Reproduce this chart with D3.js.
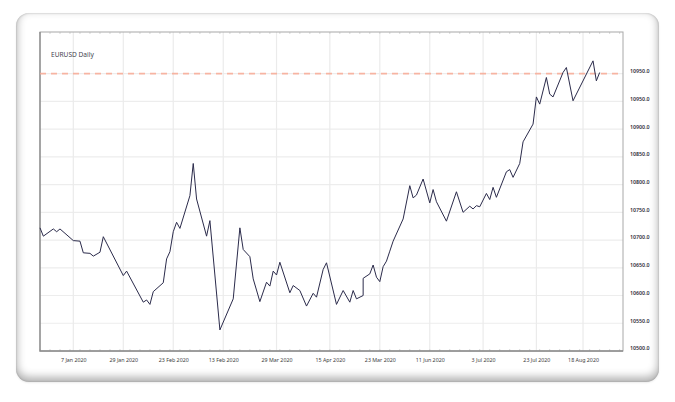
<!DOCTYPE html>
<html>
<head>
<meta charset="utf-8">
<script src="https://cdn.jsdelivr.net/npm/d3@7"></script>
<style>
  html, body { margin: 0; padding: 0; background: #fff; }
  body { width: 675px; height: 402px; position: relative; overflow: hidden; font-family: "Noto Sans", sans-serif; }
  #card {
    position: absolute; left: 16px; top: 13px; width: 643px; height: 369px;
    border-radius: 13px; background: #fff;
    box-shadow: inset 0 -4px 8px 1px rgba(0,0,0,0.30), inset 0 0 2px rgba(0,0,0,0.25), 0 1px 2px rgba(0,0,0,0.08);
  }
  svg { position: absolute; left: 0; top: 0; }
</style>
</head>
<body>
<div id="card"></div>
<script>
// session index (x) and close (y)
var days = [0, 1, 4, 5, 6, 10, 12, 13, 15, 16, 18, 19, 25, 26, 31, 32, 33, 34, 37, 38,
  39, 40, 41, 42, 45, 46, 47, 50, 51, 54, 58, 60, 61, 63, 64, 66, 68, 69, 70, 71,
  72, 75, 76, 78, 80, 82, 83, 85, 86, 89, 91, 93, 94, 95, 97, 97, 99, 100, 101, 102,
  103, 104, 105, 106, 109, 111, 112, 113, 115, 117, 118, 119, 122, 125, 127, 129, 130, 131, 132, 134,
  135, 136, 137, 140, 141, 142, 144, 145, 148, 149, 150, 152, 153, 154, 157, 158, 160, 166, 167, 168];
var closes = [10722, 10707, 10720, 10715, 10720, 10699, 10698, 10677, 10676, 10671, 10678, 10706, 10636, 10644, 10588, 10592, 10584, 10607, 10623, 10666,
  10679, 10715, 10732, 10721, 10780, 10838, 10774, 10707, 10735, 10538, 10594, 10722, 10683, 10670, 10630, 10589, 10624, 10617, 10644, 10637,
  10660, 10605, 10618, 10609, 10581, 10604, 10597, 10647, 10659, 10584, 10609, 10588, 10609, 10594, 10600, 10631, 10639, 10655, 10633, 10625,
  10652, 10662, 10680, 10698, 10738, 10798, 10776, 10781, 10810, 10767, 10791, 10769, 10734, 10787, 10750, 10761, 10756, 10762, 10760, 10784,
  10773, 10795, 10777, 10823, 10827, 10813, 10838, 10877, 10909, 10958, 10945, 10993, 10963, 10958, 11002, 11011, 10951, 11023, 10987, 11002];

var xTickDays = [10, 25, 40, 55, 71, 87, 102, 117, 133, 149, 163];
var xTickLabels = ["7 Jan 2020", "29 Jan 2020", "23 Feb 2020", "13 Feb 2020", "29 Mar 2020", "15 Apr 2020",
  "23 Mar 2020", "11 Jun 2020", "3 Jul 2020", "23 Jul 2020", "18 Aug 2020"];
var yTickValues = [10500, 10550, 10600, 10650, 10700, 10750, 10800, 10850, 10900, 10950, 11000];
var yTickLabels = ["10500.0", "10550.0", "10600.0", "10650.0", "10700.0", "10750.0",
  "10800.0", "10850.0", "10900.0", "10950.0", "10950.0"];
var refLevel = 11000;   // dashed level line
var title = "EURUSD Daily";

var width = 675, height = 402;
var plot = { left: 40, top: 32, right: 623, bottom: 351 };

var svg = d3.select("body").append("svg")
  .attr("width", width)
  .attr("height", height);

var x = d3.scaleLinear().domain([0, 175]).range([plot.left, plot.right]);
var y = d3.scaleLinear().domain([10500, 11075]).range([plot.bottom, plot.top]);

// grid
var grid = svg.append("g").attr("class", "grid");
grid.selectAll("line.h")
  .data(yTickValues.slice(1))
  .join("line")
  .attr("class", "h")
  .attr("x1", plot.left).attr("x2", plot.right)
  .attr("y1", d => y(d)).attr("y2", d => y(d))
  .attr("stroke", "#ededed").attr("stroke-width", 1.2);
grid.selectAll("line.v")
  .data(xTickDays)
  .join("line")
  .attr("class", "v")
  .attr("x1", d => x(d)).attr("x2", d => x(d))
  .attr("y1", plot.top).attr("y2", plot.bottom)
  .attr("stroke", "#ebebeb").attr("stroke-width", 1.2);

// faint minor ticks along top and bottom edges
var minor = d3.range(0, 176, 3);
grid.selectAll("line.mb")
  .data(minor)
  .join("line")
  .attr("class", "mb")
  .attr("x1", d => x(d)).attr("x2", d => x(d))
  .attr("y1", plot.bottom - 2).attr("y2", plot.bottom)
  .attr("stroke", "#d6d6d6");
grid.selectAll("line.mt")
  .data(minor)
  .join("line")
  .attr("class", "mt")
  .attr("x1", d => x(d)).attr("x2", d => x(d))
  .attr("y1", plot.top).attr("y2", plot.top + 2)
  .attr("stroke", "#d6d6d6");

// frame
svg.append("rect")
  .attr("x", plot.left).attr("y", plot.top)
  .attr("width", plot.right - plot.left).attr("height", plot.bottom - plot.top)
  .attr("fill", "none").attr("stroke", "#a8a8a8").attr("stroke-width", 1);
svg.append("path")
  .attr("d", "M" + plot.left + "," + plot.top + "V" + plot.bottom + "H" + plot.right)
  .attr("fill", "none").attr("stroke", "#8c8c8c").attr("stroke-width", 1.3);

// dashed level
svg.append("line")
  .attr("x1", plot.left).attr("x2", plot.right)
  .attr("y1", y(refLevel)).attr("y2", y(refLevel))
  .attr("stroke", "#f8a994").attr("stroke-width", 1.6)
  .attr("stroke-opacity", 0.85)
  .attr("stroke-dasharray", "6,5");

// price line
var points = days.map((d, i) => [d, closes[i]]);
svg.append("path")
  .datum(points)
  .attr("fill", "none")
  .attr("stroke", "#2b2b4b")
  .attr("stroke-width", 1)
  .attr("stroke-linejoin", "round")
  .attr("d", d3.line().x(d => x(d[0])).y(d => y(d[1])));

// axes
var xAxis = d3.axisBottom(x)
  .tickValues(xTickDays)
  .tickFormat((d, i) => xTickLabels[i])
  .tickSize(0)
  .tickPadding(7);
var gx = svg.append("g")
  .attr("transform", "translate(0," + plot.bottom + ")")
  .call(xAxis);
gx.select(".domain").remove();
gx.selectAll("text")
  .attr("fill", "#3c3c3c")
  .style("font-size", "5.3px")
  .style("font-family", "'Noto Sans', sans-serif");

var yAxis = d3.axisRight(y)
  .tickValues(yTickValues)
  .tickFormat((d, i) => yTickLabels[i])
  .tickSize(0)
  .tickPadding(7);
var gy = svg.append("g")
  .attr("transform", "translate(" + plot.right + ",0)")
  .call(yAxis);
gy.select(".domain").remove();
gy.selectAll("text")
  .attr("dy", "-0.2em")
  .attr("fill", "#2f2f3a")
  .style("font-size", "5.3px")
  .style("font-weight", "600")
  .style("font-family", "'Noto Sans', sans-serif");

// title
svg.append("text")
  .attr("x", plot.left + 11)
  .attr("y", plot.top + 25)
  .attr("fill", "#44444f")
  .style("font-size", "6.6px")
  .style("font-family", "'Noto Sans', sans-serif")
  .text(title);
</script>
</body>
</html>
